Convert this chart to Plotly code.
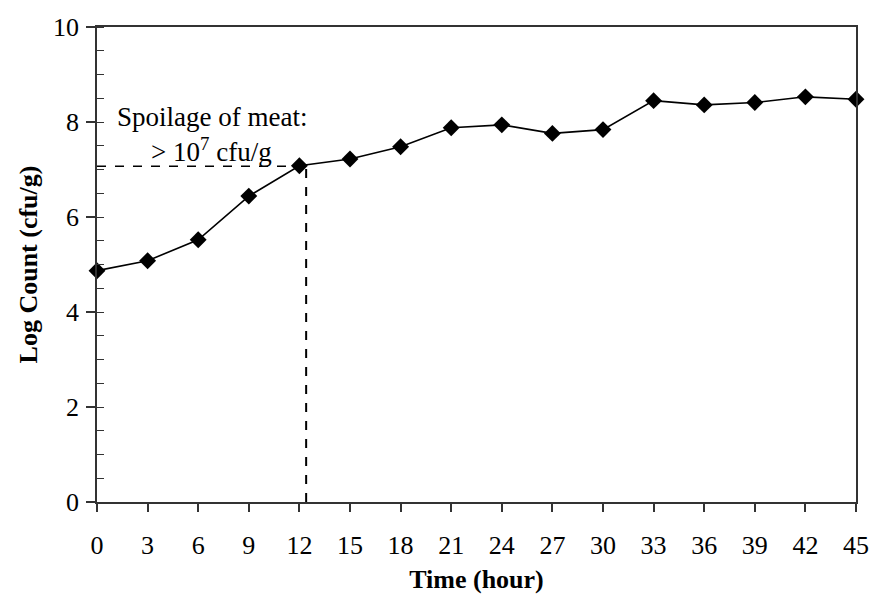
import plotly.graph_objects as go

# Data
time_h = [0, 3, 6, 9, 12, 15, 18, 21, 24, 27, 30, 33, 36, 39, 42, 45]
log_count = [4.87, 5.08, 5.52, 6.44, 7.08, 7.22, 7.48, 7.88, 7.94, 7.76, 7.84, 8.45, 8.36, 8.41, 8.53, 8.48]
x_ticks = list(range(0, 46, 3))
y_ticks = [0, 2, 4, 6, 8, 10]
spoil_log = 7.07
spoil_time = 12.4
annot_line1 = "Spoilage of meat:"
annot_line2 = "> 10<sup>7</sup> cfu/g"

SERIF = "Liberation Serif, Times New Roman, serif"

fig = go.Figure()

# dashed threshold lines
fig.add_trace(go.Scatter(x=[0, spoil_time], y=[spoil_log, spoil_log], mode="lines",
                         line=dict(color="black", width=1.5, dash="dash"),
                         showlegend=False, hoverinfo="skip"))
fig.add_trace(go.Scatter(x=[spoil_time, spoil_time], y=[0, spoil_log], mode="lines",
                         line=dict(color="black", width=2, dash="dash"),
                         showlegend=False, hoverinfo="skip"))

fig.add_trace(go.Scatter(x=time_h, y=log_count, mode="lines+markers",
                         line=dict(color="black", width=1.6),
                         marker=dict(symbol="diamond", size=13, color="black"),
                         showlegend=False, cliponaxis=False))

fig.add_annotation(x=6.8, y=8.1, text=annot_line1, showarrow=False,
                   font=dict(family=SERIF, size=27, color="black"))
fig.add_annotation(x=6.8, y=7.42, text=annot_line2, showarrow=False,
                   font=dict(family=SERIF, size=27, color="black"))

fig.update_layout(
    width=871, height=596,
    margin=dict(l=97, r=15, t=27, b=94),
    paper_bgcolor="white", plot_bgcolor="white",
    font=dict(family=SERIF, color="black"),
)

fig.update_xaxes(
    range=[0, 45], tickvals=x_ticks, ticktext=[str(v) for v in x_ticks],
    showgrid=False, zeroline=False, automargin=False,
    showline=True, linecolor="#333", linewidth=1.5, mirror=True,
    ticks="outside", ticklen=8, tickwidth=1.5, tickcolor="#333",
    tickfont=dict(family=SERIF, size=26, color="black"),
    ticklabelstandoff=11,
    title=dict(text="<b>Time (hour)</b>", font=dict(family=SERIF, size=26, color="black"),
               standoff=11),
)
fig.update_yaxes(
    range=[0, 10], tickvals=y_ticks, ticktext=[str(v) for v in y_ticks],
    showgrid=False, zeroline=False, automargin=False,
    showline=True, linecolor="#333", linewidth=1.5, mirror=True,
    ticks="outside", ticklen=9, tickwidth=1.5, tickcolor="#333",
    minor=dict(dtick=0.5, ticks="inside", ticklen=7, tickwidth=1.2, tickcolor="#333", showgrid=False),
    tickfont=dict(family=SERIF, size=26, color="black"),
    ticklabelstandoff=2,
    title=dict(text="<b>Log Count (cfu/g)</b>", font=dict(family=SERIF, size=26, color="black"),
               standoff=8),
)

fig.write_html("out.html", config={"displayModeBar": False},
               post_script="document.body.style.margin='0';document.body.style.overflow='hidden';")
